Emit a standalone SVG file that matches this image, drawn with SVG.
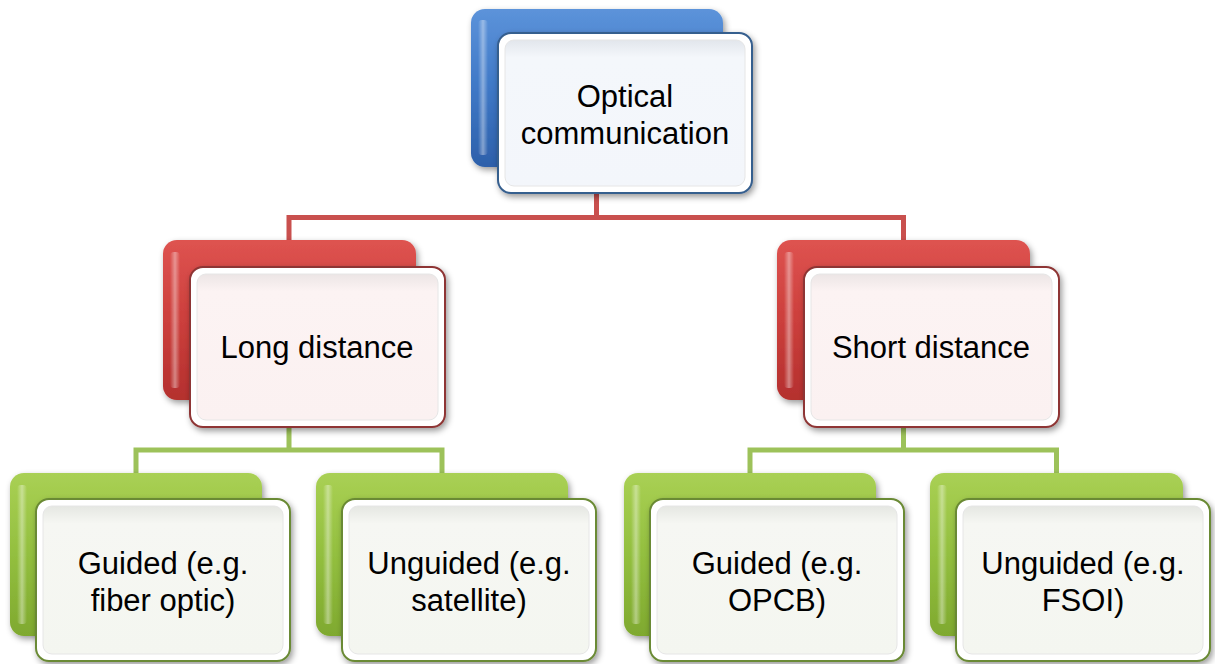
<svg xmlns="http://www.w3.org/2000/svg" width="1215" height="664" viewBox="0 0 1215 664">
  <defs>
    <linearGradient id="gBlue" x1="0" y1="0" x2="0" y2="1">
      <stop offset="0" stop-color="#5C93DA"/>
      <stop offset="0.5" stop-color="#3F78C6"/>
      <stop offset="1" stop-color="#2D60AA"/>
    </linearGradient>
    <linearGradient id="gRed" x1="0" y1="0" x2="0" y2="1">
      <stop offset="0" stop-color="#DE5350"/>
      <stop offset="0.5" stop-color="#CC3F3C"/>
      <stop offset="1" stop-color="#B4302E"/>
    </linearGradient>
    <linearGradient id="gGreen" x1="0" y1="0" x2="0" y2="1">
      <stop offset="0" stop-color="#A9D054"/>
      <stop offset="0.5" stop-color="#93BF3F"/>
      <stop offset="1" stop-color="#7FA92F"/>
    </linearGradient>
    <linearGradient id="hl" x1="0" y1="0" x2="1" y2="0">
      <stop offset="0" stop-color="#ffffff" stop-opacity="0"/>
      <stop offset="0.5" stop-color="#ffffff" stop-opacity="0.4"/>
      <stop offset="1" stop-color="#ffffff" stop-opacity="0"/>
    </linearGradient>
    <linearGradient id="fBlue" x1="0" y1="0" x2="0" y2="1">
      <stop offset="0" stop-color="#E2E6EC"/>
      <stop offset="0.12" stop-color="#F4F7FB"/>
      <stop offset="1" stop-color="#F3F6FB"/>
    </linearGradient>
    <linearGradient id="fRed" x1="0" y1="0" x2="0" y2="1">
      <stop offset="0" stop-color="#ECE5E5"/>
      <stop offset="0.12" stop-color="#FCF3F3"/>
      <stop offset="1" stop-color="#FBF1F1"/>
    </linearGradient>
    <linearGradient id="fGreen" x1="0" y1="0" x2="0" y2="1">
      <stop offset="0" stop-color="#E5E7E2"/>
      <stop offset="0.12" stop-color="#F6F7F3"/>
      <stop offset="1" stop-color="#F4F6F0"/>
    </linearGradient>
    <filter id="sh" x="-10%" y="-10%" width="125%" height="130%">
      <feDropShadow dx="2" dy="3" stdDeviation="3" flood-color="#000" flood-opacity="0.4"/>
    </filter>
  </defs>
  <style>
    .back { filter: url(#sh); }
    .front { fill: #ffffff; stroke-width: 2; filter: url(#sh); }
    .inner { stroke: #E6E6E6; stroke-width: 1; }
    .lbl { font-family: "Liberation Sans", Arial, sans-serif; font-size: 31px; fill: #000; text-anchor: middle; }
    .connR { fill: none; stroke: #C9504E; stroke-width: 5; }
    .connG { fill: none; stroke: #9DC25A; stroke-width: 5; }
  </style>

  <g id="connectors">
    <path class="connR" d="M596.5,167 V217.5 M289,240 V217.5 H903.5 V240"/>
    <path class="connG" d="M289,400 V450 M136,473 V450 H442 V473"/>
    <path class="connG" d="M903.5,400 V450 M750,473 V450 H1056.5 V473"/>
  </g>

  <g id="node-optical">
    <rect class="back" x="471" y="9" width="252" height="158" rx="14" fill="url(#gBlue)"/>
    <rect x="478" y="20" width="10" height="135" rx="4" fill="url(#hl)"/>
    <rect class="front" x="498" y="33" width="254" height="160" rx="13" stroke="#365E8E"/>
    <rect class="inner" x="505" y="40" width="240" height="146" rx="9" fill="url(#fBlue)"/>
    <text class="lbl" x="625" y="107">Optical</text>
    <text class="lbl" x="625" y="144">communication</text>
  </g>

  <g id="node-long">
    <rect class="back" x="163" y="240" width="253" height="160" rx="14" fill="url(#gRed)"/>
    <rect x="170" y="252" width="10" height="136" rx="4" fill="url(#hl)"/>
    <rect class="front" x="190" y="267" width="255" height="160" rx="13" stroke="#8E3534"/>
    <rect class="inner" x="197" y="274" width="241" height="146" rx="9" fill="url(#fRed)"/>
    <text class="lbl" x="317" y="358">Long distance</text>
  </g>

  <g id="node-short">
    <rect class="back" x="777" y="240" width="253" height="160" rx="14" fill="url(#gRed)"/>
    <rect x="784" y="252" width="10" height="136" rx="4" fill="url(#hl)"/>
    <rect class="front" x="804" y="267" width="255" height="160" rx="13" stroke="#8E3534"/>
    <rect class="inner" x="811" y="274" width="241" height="146" rx="9" fill="url(#fRed)"/>
    <text class="lbl" x="931" y="358">Short distance</text>
  </g>

  <g id="node-guided-long">
    <rect class="back" x="10" y="473" width="252" height="163" rx="14" fill="url(#gGreen)"/>
    <rect x="17" y="485" width="10" height="139" rx="4" fill="url(#hl)"/>
    <rect class="front" x="36" y="499" width="254" height="162" rx="13" stroke="#6A8A34"/>
    <rect class="inner" x="43" y="506" width="240" height="148" rx="9" fill="url(#fGreen)"/>
    <text class="lbl" x="163" y="574">Guided (e.g.</text>
    <text class="lbl" x="163" y="611">fiber optic)</text>
  </g>

  <g id="node-unguided-long">
    <rect class="back" x="316" y="473" width="252" height="163" rx="14" fill="url(#gGreen)"/>
    <rect x="323" y="485" width="10" height="139" rx="4" fill="url(#hl)"/>
    <rect class="front" x="342" y="499" width="254" height="162" rx="13" stroke="#6A8A34"/>
    <rect class="inner" x="349" y="506" width="240" height="148" rx="9" fill="url(#fGreen)"/>
    <text class="lbl" x="469" y="574">Unguided (e.g.</text>
    <text class="lbl" x="469" y="611">satellite)</text>
  </g>

  <g id="node-guided-short">
    <rect class="back" x="624" y="473" width="252" height="163" rx="14" fill="url(#gGreen)"/>
    <rect x="631" y="485" width="10" height="139" rx="4" fill="url(#hl)"/>
    <rect class="front" x="650" y="499" width="254" height="162" rx="13" stroke="#6A8A34"/>
    <rect class="inner" x="657" y="506" width="240" height="148" rx="9" fill="url(#fGreen)"/>
    <text class="lbl" x="777" y="574">Guided (e.g.</text>
    <text class="lbl" x="777" y="611">OPCB)</text>
  </g>

  <g id="node-unguided-short">
    <rect class="back" x="930" y="473" width="253" height="163" rx="14" fill="url(#gGreen)"/>
    <rect x="937" y="485" width="10" height="139" rx="4" fill="url(#hl)"/>
    <rect class="front" x="956" y="499" width="254" height="162" rx="13" stroke="#6A8A34"/>
    <rect class="inner" x="963" y="506" width="240" height="148" rx="9" fill="url(#fGreen)"/>
    <text class="lbl" x="1083" y="574">Unguided (e.g.</text>
    <text class="lbl" x="1083" y="611">FSOI)</text>
  </g>
</svg>
